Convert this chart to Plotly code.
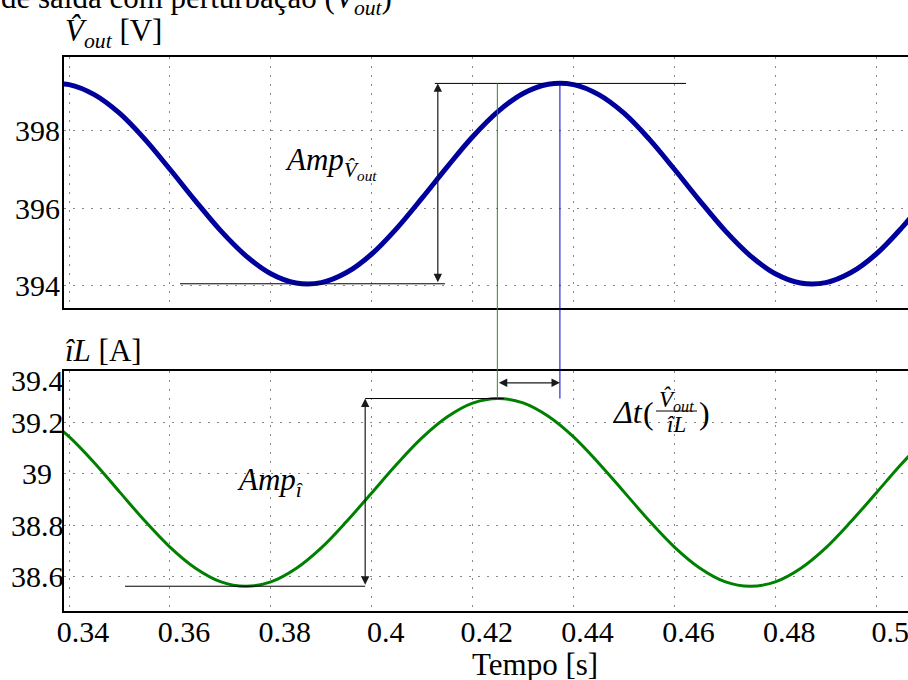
import plotly.graph_objects as go

# Simulated small-signal response: output voltage and inductor current
t_s = [0.335, 0.340, 0.345, 0.350, 0.355, 0.360, 0.365, 0.370, 0.375, 0.380,
       0.385, 0.390, 0.395, 0.400, 0.405, 0.410, 0.415, 0.420, 0.425, 0.430,
       0.435, 0.440, 0.445, 0.450, 0.455, 0.460, 0.465, 0.470, 0.475, 0.480,
       0.485, 0.490, 0.495, 0.500, 0.505, 0.510]
v_out = [399.21, 399.20, 398.94, 398.46, 397.79, 397.01, 396.20, 395.43, 394.78, 394.31,
         394.07, 394.08, 394.34, 394.82, 395.49, 396.27, 397.08, 397.85, 398.50, 398.97,
         399.21, 399.20, 398.94, 398.46, 397.79, 397.01, 396.20, 395.43, 394.78, 394.31,
         394.07, 394.08, 394.34, 394.82, 395.49, 396.27]
i_L = [39.224, 39.144, 39.043, 38.930, 38.818, 38.716, 38.635, 38.582, 38.564, 38.581,
       38.633, 38.713, 38.815, 38.926, 39.038, 39.140, 39.221, 39.274, 39.292, 39.275,
       39.223, 39.143, 39.041, 38.930, 38.818, 38.716, 38.635, 38.582, 38.564, 38.581,
       38.633, 38.713, 38.815, 38.926, 39.038, 39.140]

x_ticks = [0.34, 0.36, 0.38, 0.40, 0.42, 0.44, 0.46, 0.48, 0.50]
x_tick_text = ["0.34", "0.36", "0.38", "0.4", "0.42", "0.44", "0.46", "0.48", "0.5"]
v_ticks = [394, 396, 398]
v_tick_text = ["394", "396", "398"]
i_ticks = [38.6, 38.8, 39.0, 39.2, 39.4]
i_tick_text = ["38.6", "38.8", "39", "39.2", "39.4"]

# Measured levels used for the amplitude / delay markers
v_peak, v_valley = 399.23, 394.05
i_peak, i_valley = 39.292, 38.564
t_i_peak, t_v_peak = 0.4249, 0.4373
t_amp_v, t_amp_i = 0.4131, 0.3987
i_delay_arrow = 39.353

X_RANGE = [0.339, 0.5063]
V_RANGE = [393.416, 399.913]
I_RANGE = [38.468, 39.4]
TOP_DOM = [0.5464, 1.0]
BOT_DOM = [0.0, 0.4338]

W, H = 908, 680
ML, MR, MT, MB = 64, 0, 57, 69
PW, PH = W - ML - MR, H - MT - MB

FONT = 'Liberation Serif, "Times New Roman", Times, serif'
TICK_SIZE = 30


def px_x(px):
    return (px - ML) / PW


def px_y(py):
    return (H - MB - py) / PH


def paper_y(val, rng, dom):
    return dom[0] + (val - rng[0]) / (rng[1] - rng[0]) * (dom[1] - dom[0])


fig = go.Figure()
fig.add_trace(go.Scatter(x=t_s, y=v_out, mode="lines", xaxis="x", yaxis="y",
                         line=dict(color="#00009c", width=5, shape="spline"),
                         showlegend=False, hoverinfo="skip"))
fig.add_trace(go.Scatter(x=t_s, y=i_L, mode="lines", xaxis="x2", yaxis="y2",
                         line=dict(color="#008000", width=3, shape="spline"),
                         showlegend=False, hoverinfo="skip"))

grid = dict(showgrid=True, gridcolor="#8a8a8a", gridwidth=1, griddash="2px,7px",
            showline=True, linecolor="black", linewidth=2, ticks="", zeroline=False)

fig.update_layout(
    width=W, height=H,
    margin=dict(l=ML, r=MR, t=MT, b=MB),
    paper_bgcolor="white", plot_bgcolor="white",
    font=dict(family=FONT, size=TICK_SIZE, color="black"),
    xaxis=dict(domain=[0, 1], anchor="y", range=X_RANGE, tickvals=x_ticks,
               showticklabels=False, mirror=True, **grid),
    xaxis2=dict(domain=[0, 1], anchor="y2", range=X_RANGE, tickvals=x_ticks,
                ticktext=x_tick_text, matches="x", mirror=True,
                tickfont=dict(family=FONT, size=TICK_SIZE), ticklabelshift=14,
                ticklabelstandoff=-7, ticklabeloverflow="allow", **grid),
    yaxis=dict(domain=TOP_DOM, anchor="x", range=V_RANGE, tickvals=v_ticks,
               showticklabels=False, **grid),
    yaxis2=dict(domain=BOT_DOM, anchor="x2", range=I_RANGE, tickvals=i_ticks,
                showticklabels=False, **grid),
)

ann = []
# y tick labels, centred in the label column
for v, txt in zip(v_ticks, v_tick_text):
    ann.append(dict(x=px_x(37), y=v, xref="paper", yref="y", text=txt, showarrow=False,
                    xanchor="center", yanchor="middle", font=dict(size=TICK_SIZE)))
for v, txt in zip(i_ticks, i_tick_text):
    ann.append(dict(x=px_x(37), y=v, xref="paper", yref="y2", text=txt, showarrow=False,
                    xanchor="center", yanchor="middle", font=dict(size=TICK_SIZE),
                    yshift=-10 if txt == "39.4" else 0))

# titles
ann.append(dict(x=px_x(-1), y=px_y(0), xref="paper", yref="paper", showarrow=False,
                xanchor="left", yanchor="middle", font=dict(size=31),
                text="de saída com perturbação (<i>V̂<sub>out</sub></i>)"))
ann.append(dict(x=px_x(63), y=px_y(33), xref="paper", yref="paper", showarrow=False,
                xanchor="left", yanchor="middle", font=dict(size=31),
                text="<i>V̂<sub>out</sub></i> [V]"))
ann.append(dict(x=px_x(63), y=px_y(350), xref="paper", yref="paper", showarrow=False,
                xanchor="left", yanchor="middle", font=dict(size=31),
                text="<i>îL</i> [A]"))
ann.append(dict(x=px_x(535), y=px_y(664), xref="paper", yref="paper", showarrow=False,
                xanchor="center", yanchor="middle", font=dict(size=31),
                text="Tempo [s]"))

# amplitude labels
ann.append(dict(x=px_x(331), y=px_y(163), xref="paper", yref="paper", showarrow=False,
                xanchor="center", yanchor="middle", font=dict(size=31),
                text="<i>Amp</i><sub><i>V̂<sub>out</sub></i></sub>"))
ann.append(dict(x=px_x(270), y=px_y(482), xref="paper", yref="paper", showarrow=False,
                xanchor="center", yanchor="middle", font=dict(size=31),
                text="<i>Amp</i><sub><i>î</i></sub>"))

# delay label: Δt ( V̂out / îL )
ann.append(dict(x=px_x(610), y=px_y(412), xref="paper", yref="paper", showarrow=False,
                xanchor="left", yanchor="middle", font=dict(size=32),
                text="<i>Δt</i>"))
ann.append(dict(x=px_x(648), y=px_y(413), xref="paper", yref="paper", showarrow=False,
                xanchor="center", yanchor="middle", font=dict(size=32), text="("))
ann.append(dict(x=px_x(704), y=px_y(413), xref="paper", yref="paper", showarrow=False,
                xanchor="center", yanchor="middle", font=dict(size=32), text=")"))
ann.append(dict(x=px_x(676), y=px_y(400), xref="paper", yref="paper", showarrow=False,
                xanchor="center", yanchor="middle", font=dict(size=23),
                text="<i>V̂<sub>out</sub></i>"))
ann.append(dict(x=px_x(676), y=px_y(424), xref="paper", yref="paper", showarrow=False,
                xanchor="center", yanchor="middle", font=dict(size=23),
                text="<i>îL</i>"))

# double-headed arrows
arrow = dict(text="", showarrow=True, arrowhead=2, startarrowhead=2, arrowside="end+start",
             arrowsize=1.4, startarrowsize=1.4, arrowwidth=1.2, arrowcolor="#1a1a1a",
             standoff=0, startstandoff=0)
ann.append(dict(x=t_amp_v, y=v_peak, ax=t_amp_v, ay=v_valley, xref="x", yref="y",
                axref="x", ayref="y", **arrow))
ann.append(dict(x=t_amp_i, y=i_peak, ax=t_amp_i, ay=i_valley, xref="x2", yref="y2",
                axref="x2", ayref="y2", **arrow))
ann.append(dict(x=t_v_peak, y=i_delay_arrow, ax=t_i_peak, ay=i_delay_arrow, xref="x2",
                yref="y2", axref="x2", ayref="y2", **arrow))

shapes = []
line_k = dict(color="black", width=1)
shapes.append(dict(type="line", xref="x", yref="y", x0=0.4125, x1=0.4623,
                   y0=v_peak, y1=v_peak, line=line_k))
shapes.append(dict(type="line", xref="x", yref="y", x0=0.3620, x1=0.4145,
                   y0=v_valley, y1=v_valley, line=line_k))
shapes.append(dict(type="line", xref="x2", yref="y2", x0=0.3987, x1=0.4262,
                   y0=i_peak, y1=i_peak, line=line_k))
shapes.append(dict(type="line", xref="x2", yref="y2", x0=0.3511, x1=0.3987,
                   y0=i_valley, y1=i_valley, line=line_k))
# vertical markers linking the two peaks across both panels
shapes.append(dict(type="line", xref="x", yref="paper", x0=t_i_peak, x1=t_i_peak,
                   y0=paper_y(i_peak, I_RANGE, BOT_DOM), y1=paper_y(v_peak, V_RANGE, TOP_DOM),
                   line=dict(color="#2a8a2a", width=1)))
shapes.append(dict(type="line", xref="x", yref="paper", x0=t_v_peak, x1=t_v_peak,
                   y0=paper_y(i_peak, I_RANGE, BOT_DOM), y1=paper_y(v_peak, V_RANGE, TOP_DOM),
                   line=dict(color="#0000cc", width=1)))
# fraction bar
shapes.append(dict(type="line", xref="paper", yref="paper", x0=px_x(656), x1=px_x(697),
                   y0=px_y(411), y1=px_y(411), line=dict(color="black", width=1)))

fig.update_layout(annotations=ann, shapes=shapes)
fig.write_html("out.html")
